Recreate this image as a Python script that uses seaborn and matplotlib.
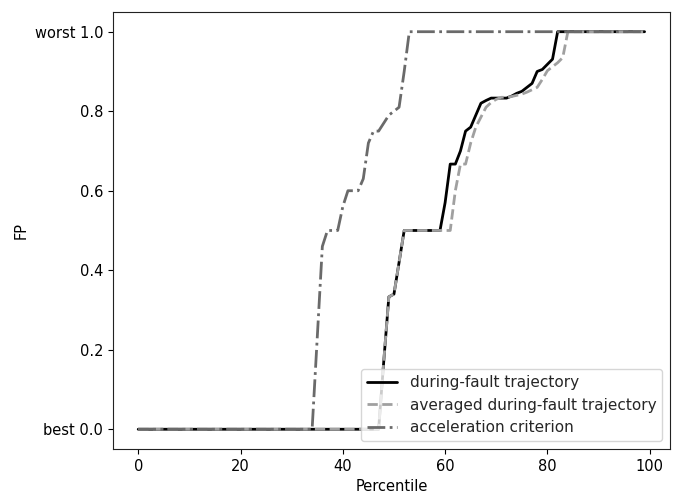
import numpy as np
import pandas as pd
import matplotlib
matplotlib.use('Agg')
import matplotlib.pyplot as plt
import seaborn as sns

# DATA
percentile = list(range(100))

during_fault = ([0.0] * 48 +
                [0.17, 0.333, 0.34, 0.42] +
                [0.5] * 8 +
                [0.57, 0.667, 0.667, 0.70, 0.75, 0.76, 0.79, 0.82, 0.827, 0.833,
                 0.833, 0.833, 0.833, 0.838, 0.845, 0.85, 0.86, 0.87, 0.90, 0.905,
                 0.918, 0.931] +
                [1.0] * 18)

averaged_fault = ([0.0] * 48 +
                  [0.17, 0.333, 0.34, 0.42] +
                  [0.5] * 10 +
                  [0.60, 0.667, 0.667, 0.72, 0.76, 0.785, 0.81, 0.822, 0.83, 0.835,
                   0.835, 0.837, 0.84, 0.843, 0.848, 0.854, 0.86, 0.88, 0.902, 0.912,
                   0.922, 0.935] +
                  [1.0] * 16)

acceleration = ([0.0] * 35 +
                [0.23, 0.46, 0.5, 0.5, 0.5, 0.56, 0.6, 0.6, 0.6, 0.63,
                 0.72, 0.75, 0.75, 0.77, 0.79, 0.80, 0.81, 0.90] +
                [1.0] * 47)

labels = ['during-fault trajectory', 'averaged during-fault trajectory', 'acceleration criterion']
ytick_vals = [0.0, 0.2, 0.4, 0.6, 0.8, 1.0]
ytick_labels = ['best 0.0', '0.2', '0.4', '0.6', '0.8', 'worst 1.0']

# PLOT
sns.set_style('ticks')
plt.rcParams['font.family'] = ['DejaVu Sans']
plt.rcParams['font.size'] = 10

fig, ax = plt.subplots(figsize=(6.76, 4.93), dpi=100)

sns.lineplot(x=percentile, y=during_fault, color='black', linewidth=2,
             linestyle='-', label=labels[0], ax=ax)
sns.lineplot(x=percentile, y=averaged_fault, color='#a0a0a0', linewidth=2,
             linestyle='--', label=labels[1], ax=ax)
sns.lineplot(x=percentile, y=acceleration, color='#6a6a6a', linewidth=2,
             linestyle='-.', label=labels[2], ax=ax)

ax.set_xlabel('Percentile', fontsize=10.5)
ax.set_ylabel('FP', fontsize=10.5)
ax.set_xticks([0, 20, 40, 60, 80, 100])
ax.set_yticks(ytick_vals)
ax.set_yticklabels(ytick_labels)
ax.tick_params(labelsize=10.5, color='black', labelcolor='black')
ax.xaxis.label.set_color('black')
ax.yaxis.label.set_color('black')
for s in ax.spines.values():
    s.set_color('#222222')

ax.legend(loc='lower right', fontsize=11, borderaxespad=0.5)

plt.subplots_adjust(left=0.167, right=0.991, top=0.976, bottom=0.089)
plt.savefig('out.png', dpi=100)
